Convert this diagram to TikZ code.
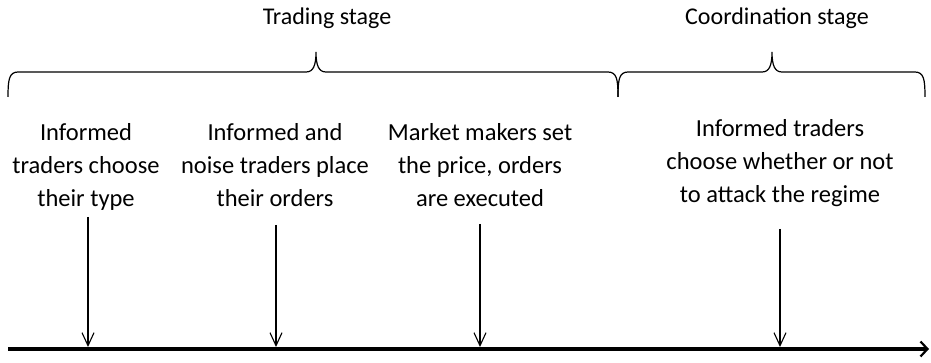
\documentclass[tikz,border=0pt]{standalone}
\usepackage{fontspec}
\setmainfont{Carlito}
\usetikzlibrary{arrows.meta}
\begin{document}
\begin{tikzpicture}[x=1pt,y=-1pt,
  lbl/.style={align=center,font=\fontsize{24.5}{33}\selectfont,inner sep=0pt,anchor=north},
  ttl/.style={font=\fontsize{24}{28}\selectfont,inner sep=0pt},
  brace/.style={line width=1.2pt},
  evt/.style={line width=1.3pt,-{Straight Barb[length=13pt,width=12pt,line width=1.1pt]}},
  axis/.style={line width=4.5pt,-{Straight Barb[length=7pt,width=15pt,line width=2.2pt]}}]
\useasboundingbox (0,0) rectangle (931,363);
% titles
\node[ttl] (tt) at (327,18) {Trading stage};
\node[ttl] (ct) at (777,18) {Coordination stage};
% braces
\draw[brace] (8,97) .. controls (8,80) and (9,72) .. (18,72) -- (306,72)
  .. controls (313,72) and (316,66) .. (316,52)
  .. controls (316,66) and (319,72) .. (326,72) -- (608,72)
  .. controls (617,72) and (618,80) .. (618,97);
\draw[brace] (618,97) .. controls (618,80) and (619,72) .. (628,72) -- (762,72)
  .. controls (769,72) and (772,66) .. (772,52)
  .. controls (772,66) and (775,72) .. (782,72) -- (915,72)
  .. controls (924,72) and (925,80) .. (925,97);
% labels
\node[lbl] (e1) at (86,123) {Informed\\traders choose\\their type};
\node[lbl] (e2) at (275,123) {Informed and\\noise traders place\\their orders};
\node[lbl] (e3) at (480,123) {Market makers set\\the price, orders\\are executed};
\node[lbl] (e4) at (780,119) {Informed traders\\choose whether or not\\to attack the regime};
% axis
\coordinate (a0) at (8,349);
\coordinate (a1) at (929,349);
\draw[axis] (a0) -- (a1);
\coordinate (p1) at (88,347);
\coordinate (p2) at (276,347);
\coordinate (p3) at (480,347);
\coordinate (p4) at (780,347);
\draw[evt] (88,217) -- (p1);
\draw[evt] (276,225) -- (p2);
\draw[evt] (480,224) -- (p3);
\draw[evt] (780,229) -- (p4);
\end{tikzpicture}
\end{document}
